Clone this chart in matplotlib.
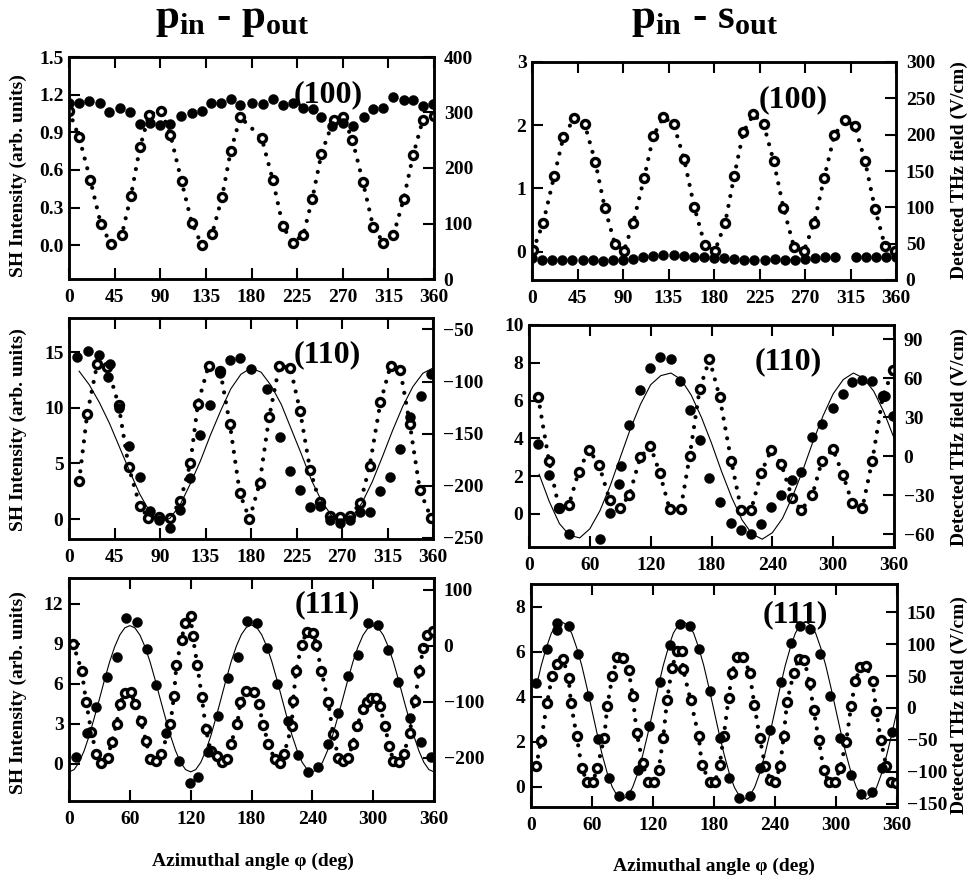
import numpy as np
import matplotlib.pyplot as plt

plt.rcParams['font.family'] = ['Liberation Serif', 'DejaVu Serif']
plt.rcParams['font.weight'] = 'bold'
plt.rcParams['mathtext.fontset'] = 'custom'
plt.rcParams['mathtext.bf'] = 'Liberation Serif:bold'
plt.rcParams['mathtext.rm'] = 'Liberation Serif:bold'

# ---- p_in - p_out, (100) ----
pp100_sh_phi = [0, 10, 21, 31.5, 41, 52, 61, 70, 79, 91, 100, 111, 121, 131, 141, 151, 159.5, 169,
                190, 201, 211, 220.5, 231, 240, 249, 261, 270.5, 279.5, 290, 300, 310, 320, 330,
                339.5, 349, 360]
pp100_sh = [1.07, 0.86, 0.52, 0.165, 0.013, 0.08, 0.39, 0.78, 1.04, 1.07, 0.88, 0.51, 0.18, 0.0,
            0.085, 0.385, 0.75, 1.02, 0.855, 0.52, 0.15, 0.02, 0.08, 0.37, 0.73, 1.0, 1.02, 0.84,
            0.5, 0.147, 0.02, 0.08, 0.365, 0.72, 1.0, 1.03]
pp100_thz_phi = [0, 10, 20, 30.6, 39, 50, 60, 70, 80, 90, 100, 110.5, 121, 131, 140, 150, 159.5, 169,
                 180, 191.7, 201, 211, 221, 231, 241, 249, 259, 270, 280, 291, 300, 310, 320, 330,
                 339.5, 349.5, 359]
pp100_thz = [317, 318, 321, 317, 301, 309, 300, 279, 281, 277, 279, 294, 299, 303, 318, 318, 324, 313,
             317, 315, 325, 313, 318, 309, 306, 291, 275, 281, 275, 291, 306, 309, 328, 323, 323,
             312, 315]

# ---- p_in - s_out, (100) ----
ps100_sh_phi = [1, 11, 22, 31, 42, 52, 62.6, 72, 82, 91, 100, 111, 120, 130, 140, 150.5, 160.4, 171,
                181, 191, 200, 209, 219, 229, 239, 248.7, 259, 269, 279, 289, 299, 309.6, 319.5,
                329.4, 339.3, 349, 359]
ps100_sh = [0.02, 0.45, 1.2, 1.81, 2.12, 2.02, 1.42, 0.69, 0.12, 0.016, 0.45, 1.17, 1.83, 2.13, 2.02,
            1.46, 0.71, 0.1, 0.016, 0.45, 1.2, 1.89, 2.17, 2.02, 1.43, 0.69, 0.08, 0.016, 0.45, 1.17,
            1.84, 2.09, 1.98, 1.43, 0.67, 0.095, 0.016]
ps100_thz_phi = [0, 10, 20, 30, 40, 50, 60, 70, 80, 90, 100, 110, 120, 130, 140, 150, 160, 170, 180,
                 190, 200, 210, 220, 230, 240, 250, 260, 270, 280, 290, 300, 320, 330, 340, 350, 360]
ps100_thz = [30, 28, 27, 27, 28, 27, 27, 26, 27, 28, 29, 31, 33, 34, 34, 33, 32, 31, 30, 30, 29, 28,
             28, 28, 29, 28, 28, 29, 30, 31, 32, 32, 32, 31, 31, 31]

# ---- p_in - p_out, (110) ----
pp110_sh_phi = [10, 18, 28, 38, 49, 59, 70, 78.5, 89, 100, 110, 120, 127.5, 138, 149.6, 159, 169,
                178.5, 188.5, 198, 208, 219, 228.6, 238.5, 248, 258, 268, 278, 288, 297.4, 308, 318,
                327.6, 337, 347, 358]
pp110_sh = [3.4, 9.45, 14.0, 13.7, 10.3, 4.7, 1.2, 0.1, 0.2, 0.1, 1.6, 5.0, 10.4, 13.8, 13.3, 8.6,
            2.3, 0.0, 3.2, 9.2, 13.8, 13.6, 9.7, 4.4, 1.5, 0.3, 0.2, 0.3, 1.4, 4.8, 10.5, 13.8, 13.4,
            8.6, 2.6, 0.1]
pp110_thz_phi = [8, 19, 30, 39, 40.6, 49, 59, 70, 80, 89.5, 100, 110, 120, 130, 139.6, 149.6, 159,
                 169, 180, 195.7, 209, 219, 228.7, 238.6, 248.5, 258, 268, 278, 288, 298, 307.8, 317,
                 327.6, 337, 348, 358]
pp110_thz = [-76.8, -70.7, -74.6, -96, -83.2, -125.6, -162, -191.6, -224.5, -232.5, -240.4, -223,
             -192.6, -151, -122.4, -92, -79.3, -77.8, -88.3, -107.4, -153.3, -186.2, -203.7, -220.7,
             -219.7, -232.5, -235.6, -232.5, -225.5, -225.5, -205.3, -191.6, -164.8, -133.6,
             -113.8, -92.7]
pp110_fit_phi = np.arange(10, 361, 10)
pp110_fit = [-90, -103, -120, -140, -163, -186, -208, -225, -235, -231, -218, -198, -176, -151,
             -128, -107, -93, -87, -91, -104, -122, -146, -170, -195, -215, -229, -235, -230, -216,
             -196, -172, -147, -124, -105, -92, -87]

# ---- p_in - s_out, (110) ----
ps110_sh_phi = [9, 19.7, 29.6, 39.4, 49, 59, 69, 79.6, 89.4, 99, 109.8, 119.7, 128.9, 138.7, 149.6,
                158.5, 168.3, 178, 188, 199.5, 209.4, 219, 229, 239, 248.8, 259.7, 268.6, 279.4, 289,
                299.8, 309.7, 318.9, 328.7, 338.6, 349, 359]
ps110_sh = [6.2, 2.8, 0.3, 0.48, 2.24, 3.4, 2.6, 0.74, 0.3, 1.0, 3.0, 3.6, 2.18, 0.25, 0.25, 3.07,
            6.6, 8.18, 6.2, 2.8, 0.2, 0.2, 2.18, 3.4, 2.64, 0.83, 0.2, 1.0, 2.82, 3.42, 2.06, 0.56,
            0.3, 2.82, 6.24, 7.6]
ps110_thz_phi = [9, 19.7, 29.6, 39.4, 69.7, 79.6, 89, 91, 99, 109.8, 119.7, 128.9, 140.4, 148.6,
                 158.5, 168.3, 178, 188, 199.5, 209.4, 219, 229, 239, 248.8, 259.7, 268.6, 279.4,
                 289, 299.8, 309.7, 318.9, 328.7, 338.6, 350.7, 359]
ps110_thz = [9.2, -14.6, -40, -60, -64, -43.6, -21.5, -7.7, 23.8, 50.8, 68.2, 76.4, 75.1, 58, 35.4,
             12.3, -17.2, -35, -51.8, -57, -60, -52.3, -39, -30, -18.5, -12, 14.9, 25.1, 37.4, 47.7,
             57.2, 59, 58, 46, 30.8]
ps110_fit_phi = np.arange(10, 361, 10)
ps110_fit = [-14, -35, -52, -61, -63, -56, -42, -23, -1, 21, 40, 55, 62, 64, 59, 47, 30, 10, -12,
             -32, -49, -60, -64, -59, -48, -31, -11, 11, 31, 48, 59, 64, 60, 50, 34, 14]

# ---- p_in - p_out, (111) ----
pp111_sh_phi = [4, 12.5, 17, 22, 27, 32, 38, 42, 47, 50, 55, 61, 65, 70.7, 76, 80, 86, 91, 100,
                103.5, 106, 111, 114.4, 120, 122, 126.6, 131, 135, 139.7, 145.6, 150.5, 155.5,
                159.4, 166, 169, 175, 182, 187, 191.7, 196.6, 203, 208, 212, 219.6, 221, 224, 229.5,
                234.4, 241, 244, 249, 255.7, 260.6, 265.6, 270.5, 275.5, 279.7, 284, 290, 293.5,
                297.5, 303, 306.7, 311.6, 316, 320, 325.8, 330, 336, 341, 345.5, 349.4, 353, 358.6]
pp111_sh = [9.0, 7.0, 4.6, 2.4, 0.7, 0.08, 0.45, 1.6, 3.0, 4.45, 5.3, 5.4, 4.45, 3.2, 1.7,
            0.38, 0.2, 0.7, 2.95, 5.1, 7.45, 9.3, 10.6, 11.1, 9.6, 7.4, 5.0, 2.6, 0.95, 0.58, 0.13,
            0.33, 1.45, 3.0, 4.6, 5.45, 5.4, 4.45, 2.9, 1.45, 0.33, 0.08, 0.7, 2.8, 4.7, 7.0, 8.95,
            9.9, 9.8, 8.9, 6.95, 4.6, 2.2, 0.45, 0.2, 0.45, 1.45, 2.8, 4.1, 4.6, 4.95, 4.95, 4.3,
            2.8, 1.3, 0.2, 0.13, 0.7, 2.3, 4.7, 6.95, 8.7, 9.7, 10.0]
pp111_thz_phi = [7, 17.4, 27, 37, 47, 56, 66.7, 76.6, 86, 95.7, 108, 119, 127.5, 137.4, 147, 157,
                 167, 176, 185, 195, 204.8, 216, 226, 236, 246, 255.7, 265.6, 275.5, 285, 295, 305,
                 315, 324.8, 336, 346.8, 356.7]
pp111_thz = [-197.7, -156, -108.5, -56, -20, 49.5, 41.7, -5.4, -70, -155, -205.7, -244, -233.8,
             -189, -125, -57.8, -20.3, 43.5, 40.5, -4.2, -68.6, -135, -195, -225, -216, -176,
             -120.5, -53.7, -16, 40.5, 37.6, -7.2, -63.8, -129.4, -171, -198]
pp111_fit_phi = np.arange(0, 361, 5)
pp111_fit = [-225, -221, -208, -187, -160, -128, -95, -61, -29, -2, 19, 32, 36, 32, 19, -2, -29, -61,
             -95, -128, -160, -187, -208, -221,
             -225, -221, -208, -187, -160, -128, -94, -60, -28, -1, 20, 33, 37, 33, 20, -1, -28, -60,
             -94, -128, -160, -187, -208, -221,
             -225, -221, -208, -187, -160, -128, -95, -61, -29, -2, 19, 32, 36, 32, 19, -2, -29, -61,
             -95, -128, -160, -187, -208, -221, -225]

# ---- p_in - s_out, (111) ----
ps111_sh_phi = [5, 10, 15.7, 20.7, 26, 31.5, 37, 39.3, 45, 50, 55, 61, 65, 72, 75, 80, 85, 90.5, 96,
                100, 104, 110, 115, 120.6, 125.6, 130, 133.8, 138.7, 143.6, 148.5, 149.5, 157, 165,
                168, 175.7, 181, 185.6, 189.5, 194.4, 197.7, 202.6, 209, 215, 219.7, 225, 230.5,
                235.4, 240.3, 245, 248.5, 251.8, 258.4, 263.3, 268.9, 274, 278, 283, 287.9, 292.8,
                299.3, 304, 310, 314.8, 319, 324, 329.8, 336, 339.7, 344, 349.5, 354, 359]
ps111_sh = [0.9, 2.05, 3.7, 4.9, 5.47, 5.68, 4.83, 3.7, 2.23, 0.82, 0.22, 0.22, 0.82, 2.16, 3.57,
            4.9, 5.77, 5.72, 5.17, 4.05, 2.38, 1.04, 0.22, 0.22, 0.74, 2.16, 3.84, 5.28, 6.02, 6.02,
            5.23, 3.84, 2.23, 0.97, 0.22, 0.22, 0.97, 2.23, 3.94, 5.06, 5.77, 5.77, 5.06, 3.64,
            2.16, 0.9, 0.3, 0.22, 0.9, 2.23, 3.75, 5.06, 5.68, 5.62, 4.6, 3.42, 2.08, 0.74, 0.22,
            0.22, 0.82, 2.0, 3.57, 4.68, 5.32, 5.35, 4.68, 3.34, 2.08, 0.9, 0.22, 0.18]
ps111_thz_phi = [5, 15.7, 25.6, 26, 37, 46, 55.7, 65.6, 76.4, 86.2, 97, 105, 115.7, 126.6, 136.4,
                 146.2, 156.7, 165, 175.7, 185.6, 194.4, 205, 215.7, 225, 235.4, 246, 255.7, 265,
                 274.8, 284.6, 294.4, 304, 314.8, 324.6, 335.4, 345.2, 355]
ps111_thz = [39.4, 92, 133, 122.7, 127.8, 84.4, 19, -48.6, -109, -138, -135.5, -97, -28, 41, 98.7,
             131.4, 127.8, 92, 27, -47.5, -109, -140.6, -138, -94.6, -34.3, 41, 102, 129, 124, 84.4,
             19, -47.5, -104.8, -134.5, -131.4, -94.6, -38.3]
ps111_fit_phi = np.arange(5, 361, 5)
ps111_fit = [32, 66, 94, 117, 130, 135, 130, 117, 94, 66, 32, -4, -40, -73, -102, -124, -138, -143,
             -138, -124, -102, -73, -40, -4,
             32, 66, 94, 117, 130, 135, 130, 117, 94, 66, 32, -4, -40, -73, -102, -124, -138, -143,
             -138, -124, -102, -73, -40, -4,
             32, 66, 94, 117, 130, 135, 130, 117, 94, 66, 32, -4, -40, -73, -102, -124, -138, -143,
             -138, -124, -102, -73, -40, -4]

W, H = 968, 881
fig = plt.figure(figsize=(W / 100, H / 100), dpi=100)


def box(l, t, r, b):
    return [l / W, 1 - b / H, (r - l) / W, (b - t) / H]


def panel(rect, sh_phi, sh, thz_phi, thz, ylim, ylim2, yticks, yticks2, xticks, tag, tag_xy,
          fit_phi=None, fit=None, ylabels=None):
    ax = fig.add_axes(box(*rect))
    ax2 = ax.twinx()

    # SH signal: open circles joined by a dotted line
    ax.plot(sh_phi, sh, color='k', lw=3.0, linestyle=(0, (0.01, 2.4)),
            dash_capstyle='round', zorder=2)
    ax.plot(sh_phi, sh, 'o', ms=5.8, mfc='white', mec='k', mew=2.4, zorder=3)

    # THz field: filled circles (+ thin fit)
    if fit is not None:
        ax2.plot(fit_phi, fit, color='k', lw=0.8, zorder=2)
    ax2.plot(thz_phi, thz, 'o', ms=7.2, color='k', mew=0.3, zorder=3)

    ax.set_xlim(0, 360)
    ax.set_xticks(xticks)
    ax.set_ylim(*ylim)
    ax.set_yticks(yticks)
    if ylabels is not None:
        ax.set_yticklabels(ylabels)
    ax2.set_ylim(*ylim2)
    ax2.set_yticks(yticks2)

    ax.tick_params(axis='both', direction='in', length=8, width=1.5, labelsize=14)
    ax.tick_params(axis='x', top=True, pad=7)
    ax.tick_params(axis='y', right=False, pad=4)
    ax2.tick_params(axis='y', direction='in', length=8, width=1.5, labelsize=14, pad=7)
    for a in (ax, ax2):
        for s in a.spines.values():
            s.set_linewidth(1.8)

    ax2.text(tag_xy[0], tag_xy[1], tag, transform=ax.transAxes, ha='center', va='center',
             fontsize=23, zorder=5)
    return ax, ax2


panel((69, 57, 434, 279), pp100_sh_phi, pp100_sh, pp100_thz_phi, pp100_thz,
      (-0.27, 1.5), (0, 400), [0, 0.3, 0.6, 0.9, 1.2, 1.5], [0, 100, 200, 300, 400],
      np.arange(0, 361, 45), '(100)', (0.71, 0.83),
      ylabels=['0.0', '0.3', '0.6', '0.9', '1.2', '1.5'])

panel((532, 62, 896, 280), ps100_sh_phi, ps100_sh, ps100_thz_phi, ps100_thz,
      (-0.45, 3.0), (0, 300), [0, 1, 2, 3], [0, 50, 100, 150, 200, 250, 300],
      np.arange(0, 361, 45), '(100)', (0.717, 0.826))

panel((69, 318, 433, 539), pp110_sh_phi, pp110_sh, pp110_thz_phi, pp110_thz,
      (-1.8, 18.1), (-251, -39), [0, 5, 10, 15], [-250, -200, -150, -100, -50],
      np.arange(0, 361, 45), '(110)', (0.71, 0.833), pp110_fit_phi, pp110_fit)

panel((529, 325, 894, 547), ps110_sh_phi, ps110_sh, ps110_thz_phi, ps110_thz,
      (-1.75, 10), (-70, 101), [0, 2, 4, 6, 8, 10], [-60, -30, 0, 30, 60, 90],
      np.arange(0, 361, 60), '(110)', (0.71, 0.833), ps110_fit_phi, ps110_fit)

panel((69, 578, 434, 801), pp111_sh_phi, pp111_sh, pp111_thz_phi, pp111_thz,
      (-2.8, 13.95), (-277, 121), [0, 3, 6, 9, 12], [-200, -100, 0, 100],
      np.arange(0, 361, 60), '(111)', (0.707, 0.879), pp111_fit_phi, pp111_fit)

panel((531, 584, 897, 807), ps111_sh_phi, ps111_sh, ps111_thz_phi, ps111_thz,
      (-0.9, 9.0), (-155, 194), [0, 2, 4, 6, 8], [-150, -100, -50, 0, 50, 100, 150],
      np.arange(0, 361, 60), '(111)', (0.721, 0.861), ps111_fit_phi, ps111_fit)

# column titles
fig.text(232 / W, 1 - 28 / H, r'$\mathbf{p}_{\mathbf{in}}$ - $\mathbf{p}_{\mathbf{out}}$',
         ha='center', va='baseline', fontsize=31)
fig.text(705 / W, 1 - 28 / H, r'$\mathbf{p}_{\mathbf{in}}$ - $\mathbf{s}_{\mathbf{out}}$',
         ha='center', va='baseline', fontsize=31)

# axis labels
for yc in (176, 430, 693):
    fig.text(18 / W, 1 - yc / H, 'SH Intensity (arb. units)', rotation=90,
             ha='center', va='center', fontsize=14)
for yc in (170, 437, 705):
    fig.text(959 / W, 1 - yc / H, 'Detected THz field (V/cm)', rotation=90,
             ha='center', va='center', fontsize=14)
fig.text(253 / W, 1 - 861 / H, 'Azimuthal angle φ (deg)', ha='center', va='center', fontsize=14)
fig.text(714 / W, 1 - 866 / H, 'Azimuthal angle φ (deg)', ha='center', va='center', fontsize=14)

fig.savefig('out.png', dpi=100)
